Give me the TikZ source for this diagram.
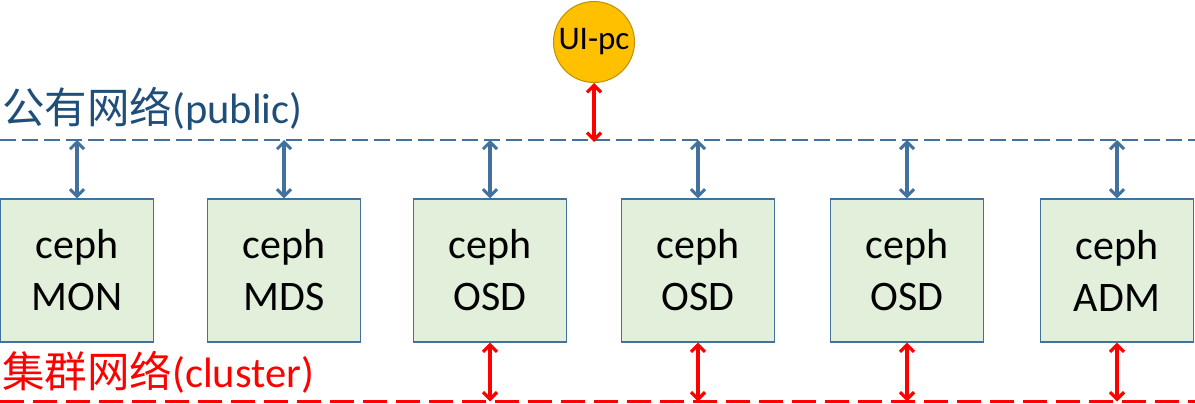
\documentclass[tikz,border=0pt]{standalone}
\usepackage{fontspec}
\setmainfont{Carlito}
\newfontfamily\cjk{Noto Sans CJK SC}
\usetikzlibrary{arrows.meta}
\definecolor{pubblue}{HTML}{41719C}
\definecolor{labblue}{HTML}{1F4E79}
\definecolor{boxfill}{HTML}{E2EFDA}
\definecolor{uifill}{HTML}{FFC000}
\definecolor{uiedge}{HTML}{BF9000}
\tikzset{
  cephbox/.style={draw=pubblue, line width=1.3pt, fill=boxfill, minimum width=153pt, minimum height=143pt, inner sep=0pt, font=\fontsize{42}{52}\selectfont, align=center},
  publine/.style={draw=pubblue, line width=1.8pt, dash pattern=on 16pt off 6pt},
  clline/.style={draw=red, line width=3.4pt, dash pattern=on 24pt off 9pt},
  pubarrow/.style={draw=pubblue, line width=3.2pt, {Straight Barb[length=7pt,width=14pt,line width=3pt]}-{Straight Barb[length=7pt,width=14pt,line width=3pt]}},
  redarrow/.style={draw=red, line width=3.2pt, {Straight Barb[length=7pt,width=14pt,line width=3.2pt]}-{Straight Barb[length=7pt,width=14pt,line width=3.2pt]}},
  netlabel/.style={anchor=base west, inner sep=0pt, font=\fontsize{42.5}{50}\selectfont}
}
\begin{document}
\begin{tikzpicture}[x=1pt,y=-1pt]
\useasboundingbox (0,0) rectangle (1195,404);
% networks
\coordinate (pubL) at (0,140);
\coordinate (pubR) at (1195,140);
\coordinate (clL) at (0,401.5);
\coordinate (clR) at (1195,401.5);
\draw[publine] (pubL) -- (pubR);
\draw[clline] (clL) -- (clR);
\node[netlabel, text=labblue] (publab) at (2,124) {{\cjk 公有网络}(public)};
\node[netlabel, text=red] (cllab) at (2,387) {{\cjk 集群网络}(cluster)};
% boxes
\node[cephbox] (mon) at (77,270.5) {ceph\\MON};
\node[cephbox] (mds) at (284,270.5) {ceph\\MDS};
\node[cephbox] (osd1) at (490,270.5) {ceph\\OSD};
\node[cephbox] (osd2) at (698,270.5) {ceph\\OSD};
\node[cephbox] (osd3) at (907,270.5) {ceph\\OSD};
\node[cephbox] (adm) at (1117,270.5) {ceph\\ADM};
% UI-pc
\node[circle, draw=uiedge, line width=1pt, fill=uifill, minimum size=81pt, inner sep=0pt, font=\fontsize{33}{40}\selectfont] (ui) at (594,42) {UI-pc};
% public arrows
\foreach \b in {mon,mds,osd1,osd2,osd3,adm}{
  \coordinate (p\b) at (\b.north |- pubL);
  \draw[pubarrow] (p\b) -- (\b.north);
}
% cluster arrows
\foreach \b in {osd1,osd2,osd3,adm}{
  \coordinate (c\b) at (\b.south |- clL);
  \draw[redarrow] (\b.south) -- (c\b);
}
\coordinate (pui) at (ui.south |- pubL);
\draw[redarrow] (ui.south) -- ([yshift=-2pt]pui);
\end{tikzpicture}
\end{document}
